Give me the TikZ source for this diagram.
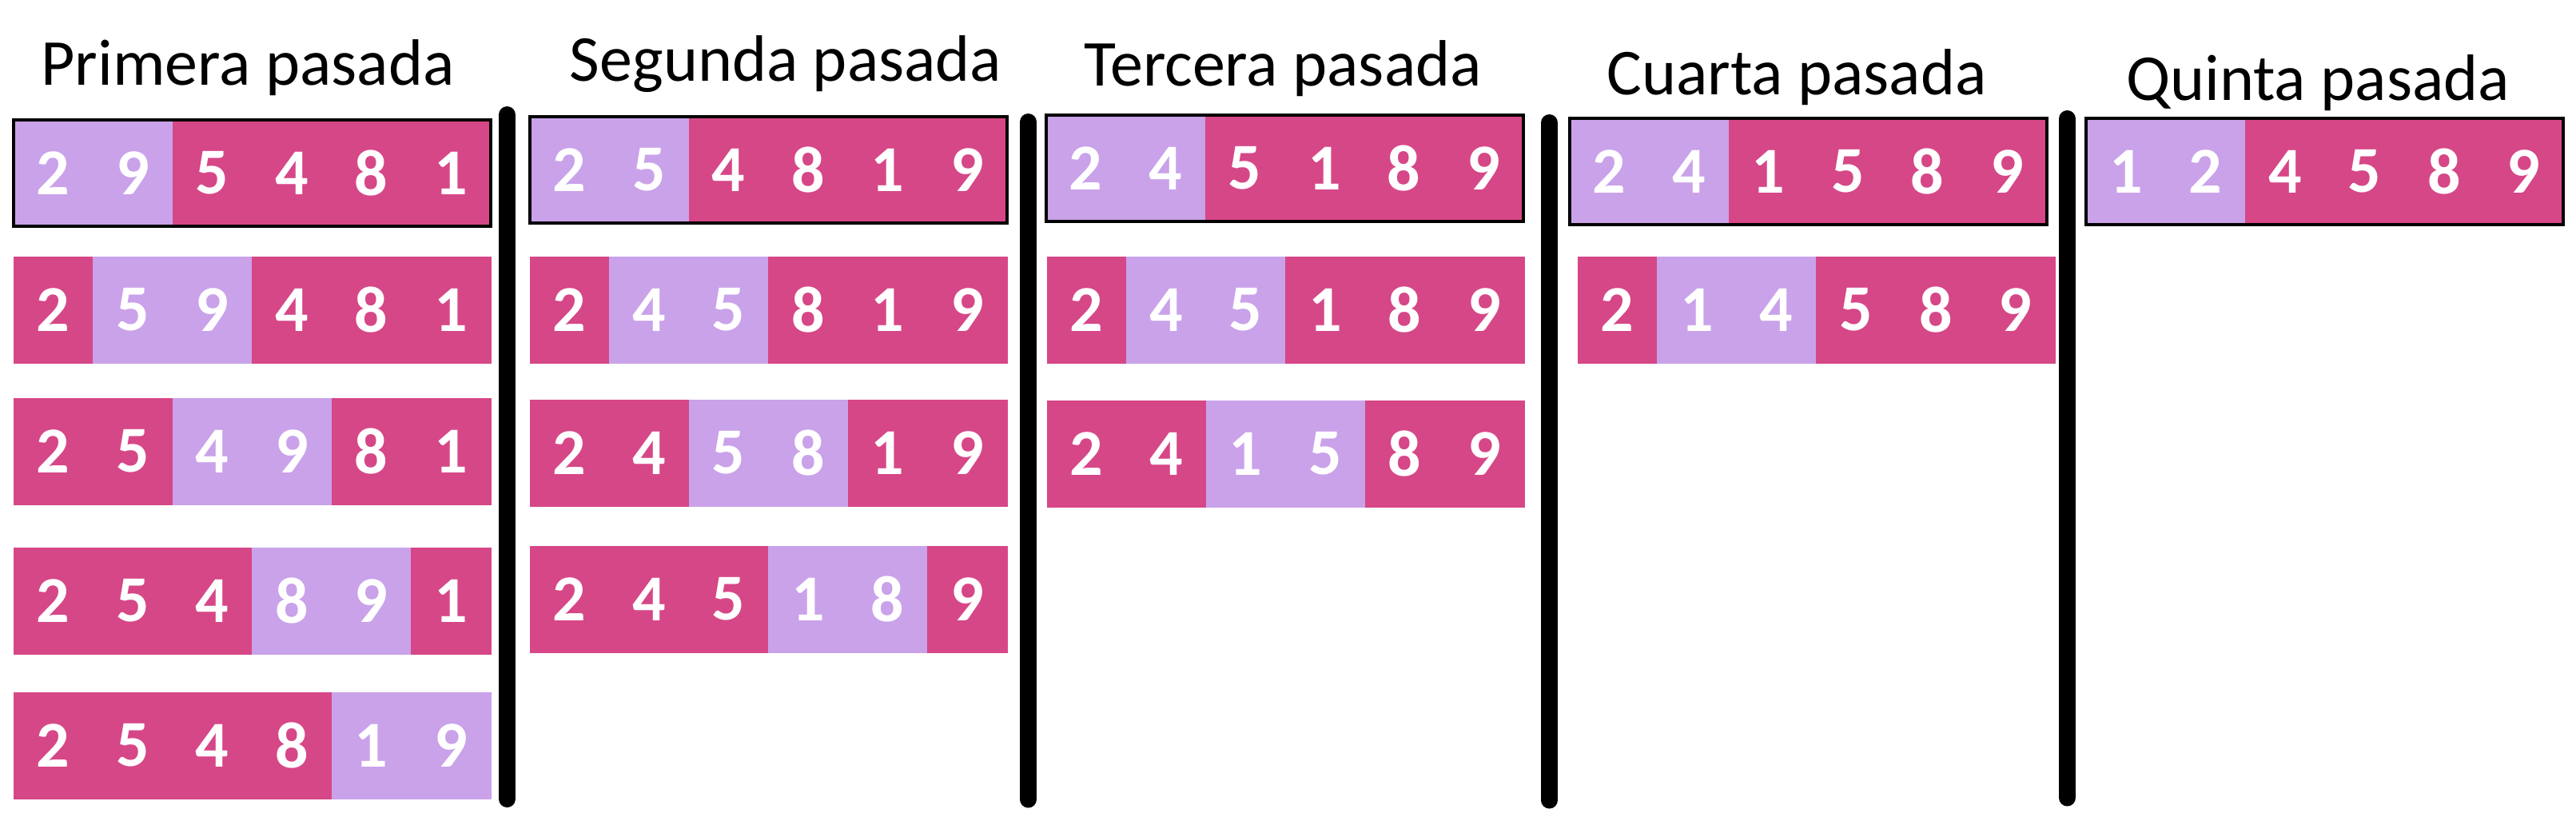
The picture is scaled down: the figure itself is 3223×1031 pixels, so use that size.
\documentclass[tikz,border=0pt]{standalone}
\usepackage{fontspec}
\setmainfont{Carlito}
\definecolor{pinkc}{RGB}{214,71,135}
\definecolor{lilac}{RGB}{201,162,234}
\tikzset{
  cell/.style={rectangle, inner sep=0pt, outer sep=0pt, minimum height=33.25pt,
    anchor=north west, text=white, line width=0.2pt,
    font=\fontsize{20.5pt}{24pt}\selectfont\bfseries},
  title/.style={anchor=base, inner sep=0pt, text=black,
    font=\fontsize{20.5pt}{24pt}\selectfont},
  frame/.style={draw=black, line width=1pt},
  divider/.style={draw=black, line width=5.25pt, line cap=round}
}
\newcommand{\sortrow}[6]{% #1 name, #2 left, #3 top, #4 cell width, #5 first lilac index, #6 digits
  \foreach \d [count=\i] in {#6}{
    \pgfmathtruncatemacro\isp{((\i==#5)||(\i==#5+1))}
    \ifnum\isp=1 \def\cc{lilac}\else\def\cc{pinkc}\fi
    \node[cell, fill=\cc, draw=\cc, minimum width={#4*0.25pt}] (#1c\i) at ({#2+(\i-1)*#4}, #3) {\d};
  }
}
\begin{document}
\begin{tikzpicture}[x=0.25pt, y=-0.25pt]
\useasboundingbox (0,0) rectangle (3223,1031);

% titles
\node[title] (t1) at (310,106) {Primera pasada};
\node[title] (t2) at (983,101) {Segunda pasada};
\node[title] (t3) at (1605,107) {Tercera pasada};
\node[title] (t4) at (2248,118) {Cuarta pasada};
\node[title] (t5) at (2900,125) {Quinta pasada};

% panel 1
\sortrow{p1r1}{17}{150}{99.5}{1}{2,9,5,4,8,1}
\draw[frame] (p1r1c1.north west) rectangle (p1r1c6.south east);
\sortrow{p1r2}{17}{321}{99.5}{2}{2,5,9,4,8,1}
\sortrow{p1r3}{17}{498}{99.5}{3}{2,5,4,9,8,1}
\sortrow{p1r4}{17}{685}{99.5}{4}{2,5,4,8,9,1}
\sortrow{p1r5}{17}{866}{99.5}{5}{2,5,4,8,1,9}

% panel 2
\sortrow{p2r1}{663}{146}{99.5}{1}{2,5,4,8,1,9}
\draw[frame] (p2r1c1.north west) rectangle (p2r1c6.south east);
\sortrow{p2r2}{663}{321}{99.5}{2}{2,4,5,8,1,9}
\sortrow{p2r3}{663}{500}{99.5}{3}{2,4,5,8,1,9}
\sortrow{p2r4}{663}{683}{99.5}{4}{2,4,5,1,8,9}

% panel 3
\sortrow{p3r1}{1309}{144}{99.5}{1}{2,4,5,1,8,9}
\draw[frame] (p3r1c1.north west) rectangle (p3r1c6.south east);
\sortrow{p3r2}{1310}{321}{99.5}{2}{2,4,5,1,8,9}
\sortrow{p3r3}{1310}{501}{99.5}{3}{2,4,1,5,8,9}

% panel 4
\sortrow{p4r1}{1964}{148}{99.5}{1}{2,4,1,5,8,9}
\draw[frame] (p4r1c1.north west) rectangle (p4r1c6.south east);
\sortrow{p4r2}{1974}{321}{99.5}{2}{2,1,4,5,8,9}

% panel 5
\sortrow{p5r1}{2610}{148}{99.5}{1}{1,2,4,5,8,9}
\draw[frame] (p5r1c1.north west) rectangle (p5r1c6.south east);

% dividers
\draw[divider] (634.5,143.5) -- (634.5,999.5);
\draw[divider] (1286.5,152.5) -- (1286.5,1000);
\draw[divider] (1938.5,153.5) -- (1938.5,1001);
\draw[divider] (2586.5,148.5) -- (2586.5,998);
\end{tikzpicture}
\end{document}
